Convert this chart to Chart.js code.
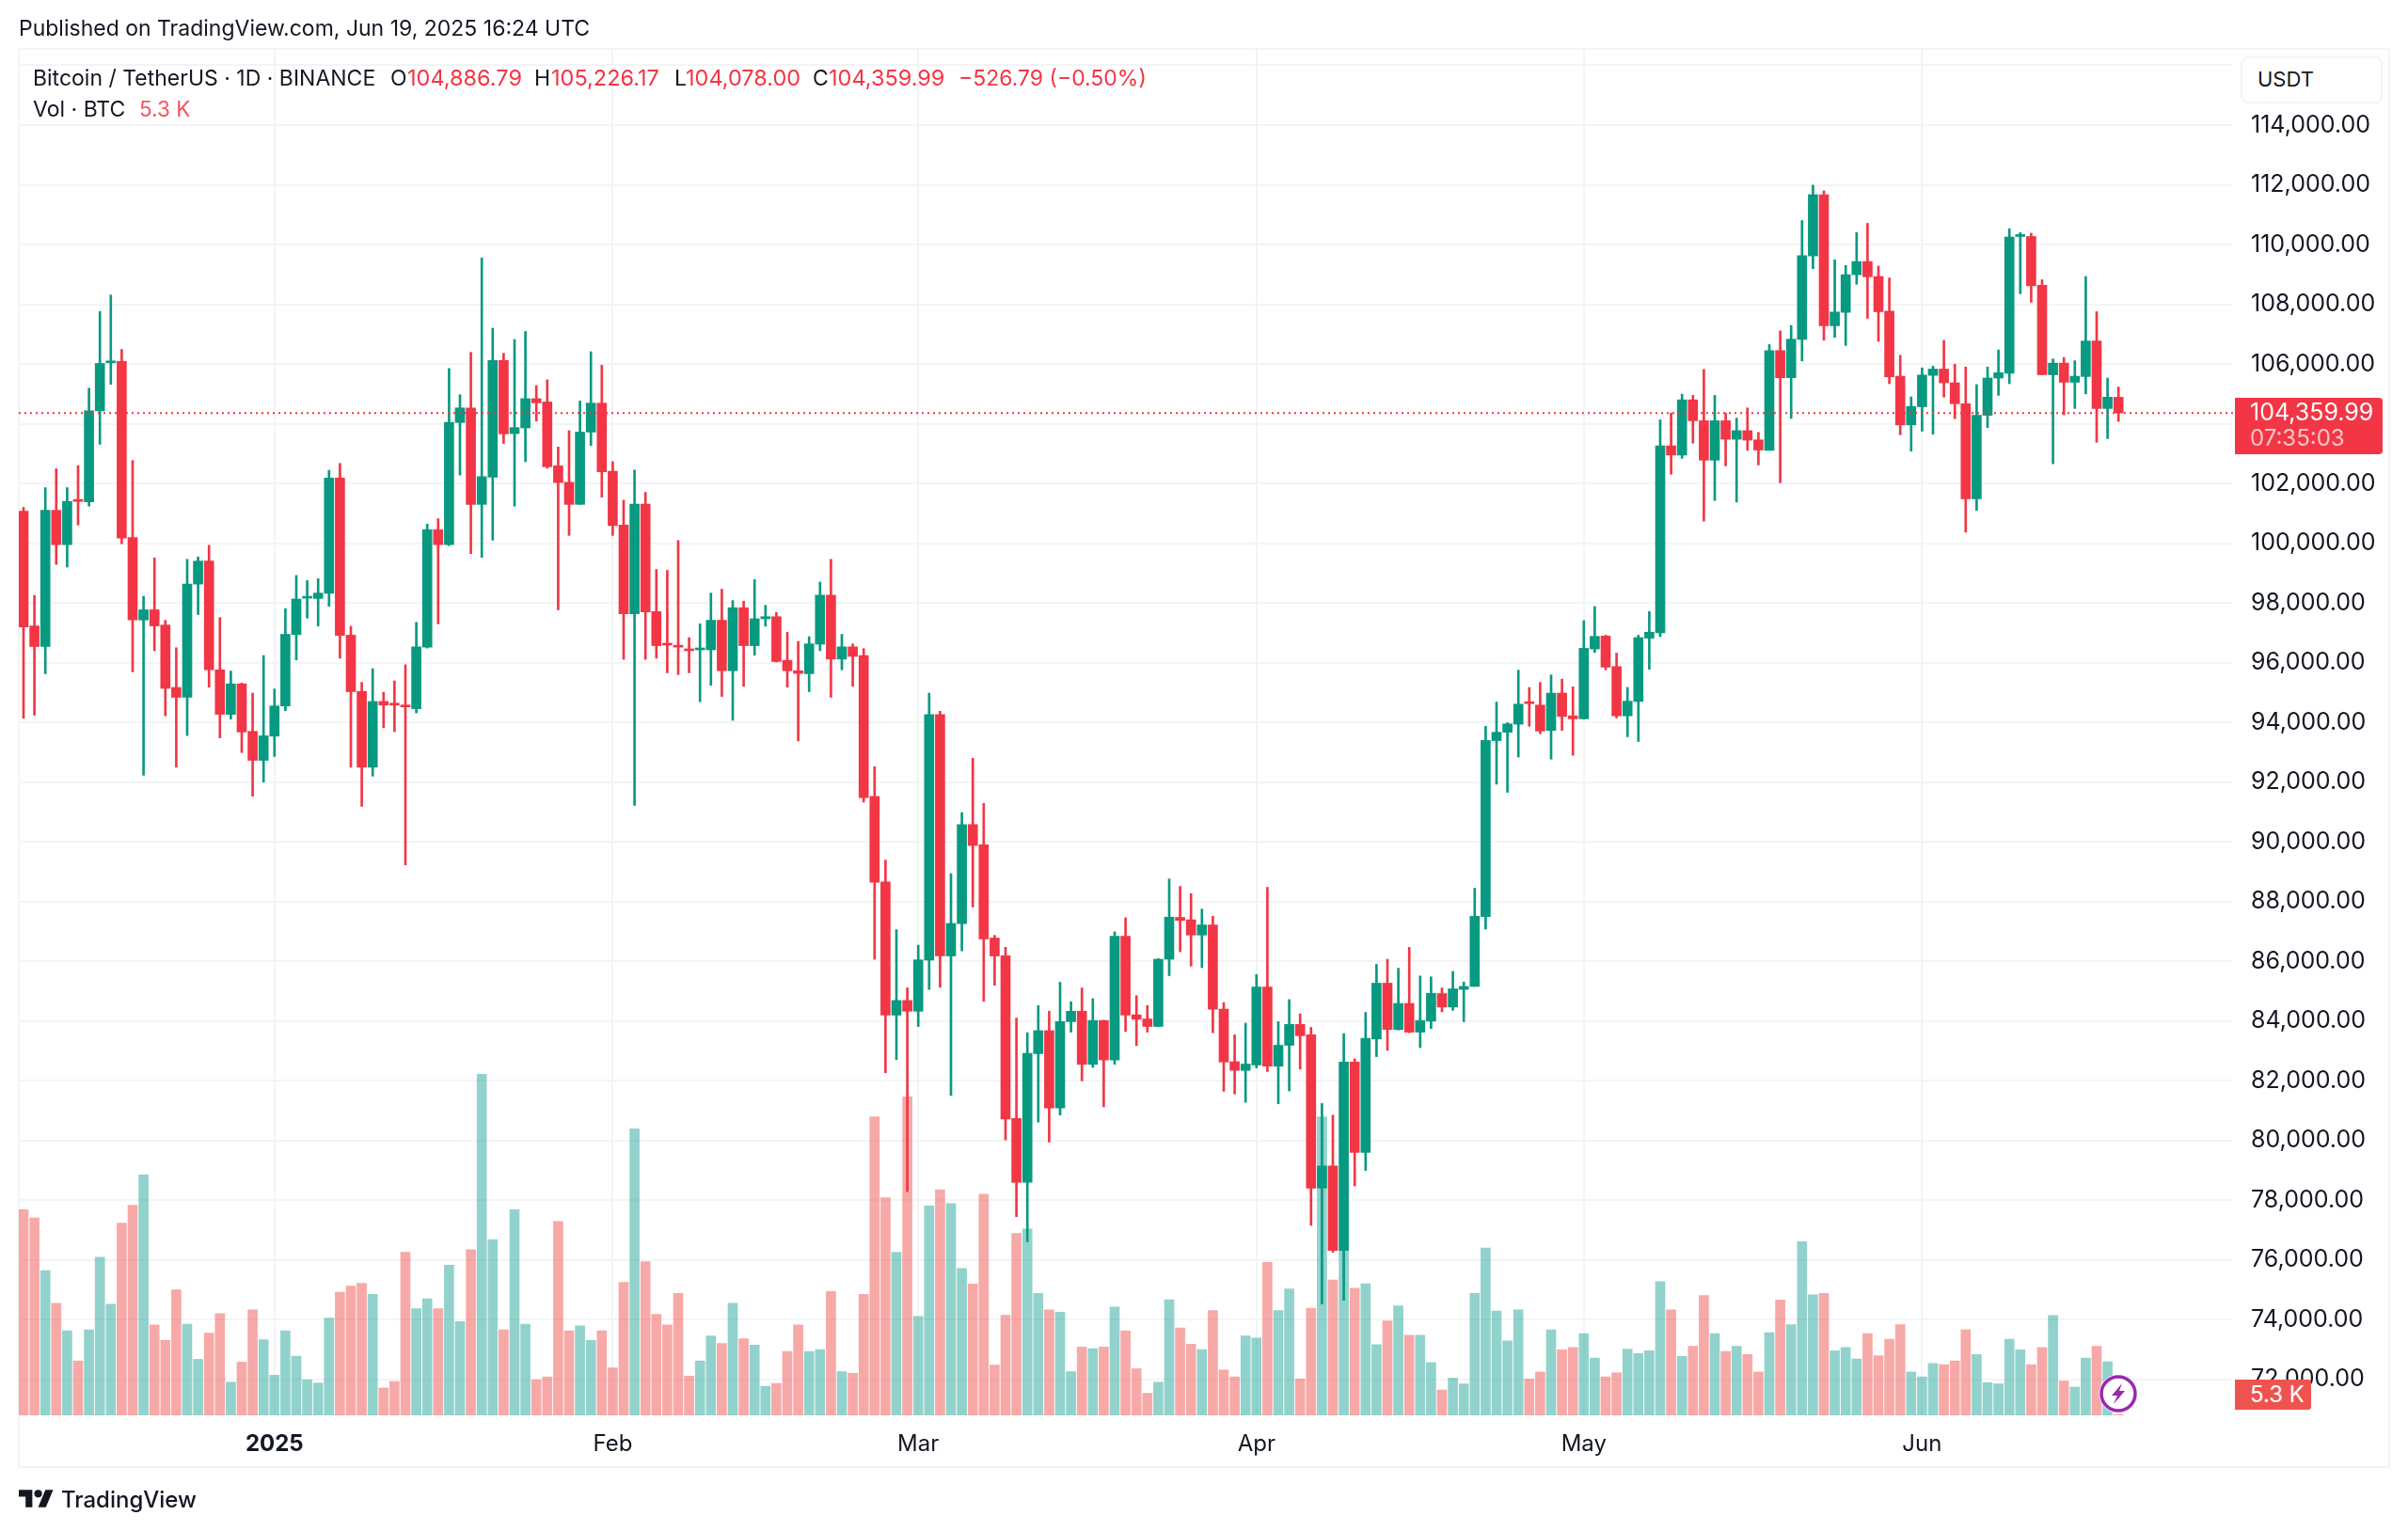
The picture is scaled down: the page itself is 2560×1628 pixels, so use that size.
<!DOCTYPE html>
<html>
<head>
<meta charset="utf-8">
<title>Bitcoin / TetherUS</title>
<script src="https://cdn.jsdelivr.net/npm/chart.js@4/dist/chart.umd.min.js"></script>
<style>
  html, body { margin: 0; padding: 0; background: #fff; }
  #page { position: relative; width: 2560px; height: 1628px; overflow: hidden; font-family: Inter, sans-serif; color: #131722; }
  #frame { position: absolute; left: 19px; top: 51px; width: 2518px; height: 1506px; border: 2px solid #f3f4f6; }
  canvas { position: absolute; left: 0; top: 0; }
  .t { position: absolute; white-space: nowrap; font-size: 24px; line-height: 30px; }
  .red { color: #f23645; }
  .box { position: absolute; box-sizing: border-box; }
</style>
</head>
<body>
<div id="page">
  <div id="frame"></div>
  <canvas id="chart" width="2560" height="1628"></canvas>

  <div class="t" style="left:20px;top:15px;font-size:23px">Published on TradingView.com, Jun 19, 2025 16:24 UTC</div>

  <div class="t" style="left:35px;top:68px;font-size:23px">Bitcoin / TetherUS · 1D · BINANCE</div>
  <div class="t" style="left:415px;top:68px;font-size:23px">O</div>
  <div class="t red" style="left:433px;top:68px;font-size:23.500px">104,886.79</div>
  <div class="t" style="left:568px;top:68px;font-size:23px">H</div>
  <div class="t red" style="left:586px;top:68px;font-size:23.500px">105,226.17</div>
  <div class="t" style="left:717px;top:68px;font-size:23px">L</div>
  <div class="t red" style="left:729px;top:68px;font-size:23.500px">104,078.00</div>
  <div class="t" style="left:864px;top:68px;font-size:23px">C</div>
  <div class="t red" style="left:881px;top:68px;font-size:23.500px">104,359.99</div>
  <div class="t red" style="left:1019px;top:68px;font-size:23px">−526.79 (−0.50%)</div>
  <div class="t" style="left:35px;top:101px;font-size:23px">Vol · BTC</div>
  <div class="t" style="left:148px;top:101px;font-size:22.500px;color:#f7525f">5.3 K</div>

  <div class="box" style="left:2382px;top:60px;width:151px;height:50px;background:#fff;border:2px solid #f3f4f6;border-radius:8px"></div>
  <div class="t" style="left:2400px;top:69px;font-size:22px">USDT</div>

  <div class="box" style="left:2376px;top:423px;width:157px;height:60px;background:#f23645;border-radius:0 4px 4px 0"></div>
  <div class="t" style="left:2392px;top:423px;font-size:25px;color:#fff">104,359.99</div>
  <div class="t" style="left:2392px;top:451px;color:rgba(255,255,255,.7)">07:35:03</div>

  <div class="box" style="left:2376px;top:1467px;width:81px;height:32px;background:#ef5350;border-radius:0 3px 3px 0"></div>
  <div class="t" style="left:2392px;top:1468px;color:#fff">5.3 K</div>

  <svg class="box" style="left:2231px;top:1461px" width="42" height="42" viewBox="0 0 42 42">
    <circle cx="21" cy="21" r="20.500" fill="#fff"/>
    <circle cx="21" cy="21" r="18" fill="#fff" stroke="#9c27b0" stroke-width="3.500"/>
    <path d="M25 10 L14 23 L20 23 L16 32 L28 18 L22 18 Z" fill="#9c27b0"/>
  </svg>

  <svg class="box" style="left:20px;top:1584px" width="37" height="19" viewBox="0 4 36 18">
    <path d="M14 22H7V11H0V4h14v18zM28 22h-8l7.500-18h8L28 22z" fill="#131722"/>
    <circle cx="20" cy="8" r="4" fill="#131722"/>
  </svg>
  <div class="t" style="left:65px;top:1580px;font-size:24px;font-weight:500">TradingView</div>
</div>

<script>
// daily candles, Dec 9 2024 to Jun 19 2025
const opens = [
  101070, 97230, 96540, 101100, 99950, 101440, 101380, 104430, 106040, 106090,
  100190, 97430, 97770, 97260, 95170, 94840, 98630, 99400, 95760, 94270,
  95290, 93700, 92730, 93540, 94550, 96940, 98160, 98150, 98320, 102180,
  96920, 95040, 92500, 94700, 94620, 94560, 94460, 96520, 100450, 99950,
  104040, 104530, 101300, 102210, 106120, 103670, 103860, 104840, 104730, 102590,
  102040, 101300, 103720, 104690, 102410, 100610, 97640, 101310, 97710, 96630,
  96560, 96460, 96430, 96430, 97420, 95730, 97840, 96570, 97470, 97540,
  96080, 95730, 95630, 96620, 98260, 96120, 96530, 96240, 91520, 88660,
  84200, 84690, 84330, 86040, 94260, 86180, 87260, 90580, 89900, 86780,
  86190, 80740, 78600, 82910, 83680, 81090, 83980, 84330, 82550, 84020,
  82700, 86840, 84210, 84070, 83820, 86070, 87470, 87390, 86880, 87220,
  84400, 82640, 82350, 82530, 85140, 82490, 83190, 83890, 83540, 78410,
  79150, 76320, 82630, 79600, 83400, 85270, 83720, 84590, 83630, 84000,
  84920, 84470, 85060, 85160, 87500, 93390, 93670, 93940, 94650, 94580,
  93730, 94980, 94220, 94120, 96460, 96890, 95870, 94220, 94700, 96820,
  97000, 103260, 102950, 104800, 104100, 102780, 104100, 103480, 103770, 103460,
  103110, 106450, 105540, 106820, 109620, 111670, 107280, 107730, 108990, 109430,
  108930, 107770, 105590, 103960, 104570, 105620, 105830, 105370, 104670, 101490,
  104280, 105530, 105690, 110270, 110270, 108640, 105640, 106030, 105390, 105580,
  106770, 104510, 104886.79
];
const highs = [
  101200, 98250, 101860, 102490, 101860, 102600, 105190, 107760, 108310, 106490,
  102770, 98220, 99510, 97420, 96500, 99460, 99540, 99930, 97510, 95720,
  95320, 94980, 96240, 95120, 97810, 98920, 98750, 98810, 102440, 102670,
  97220, 95340, 95800, 95010, 95390, 95930, 97350, 100640, 100820, 105850,
  104970, 106390, 109550, 107200, 106360, 106820, 107090, 105280, 105470, 103220,
  103770, 104760, 106410, 105960, 102730, 101440, 102450, 101700, 99120, 99090,
  100090, 96840, 97300, 98330, 98460, 98080, 98060, 98780, 97920, 97680,
  97020, 96710, 96870, 98700, 99460, 96950, 96630, 96470, 92520, 89390,
  87060, 85110, 86540, 94980, 94370, 88940, 90980, 92800, 91290, 86870,
  86470, 84100, 83610, 84520, 84330, 85300, 84650, 85110, 84750, 84030,
  86990, 87460, 84850, 84520, 86090, 88760, 88510, 88270, 87750, 87510,
  84620, 83540, 83930, 85560, 88480, 83980, 84720, 84240, 83790, 81240,
  80850, 83580, 82740, 84290, 85900, 86070, 85770, 86470, 85510, 85480,
  85110, 85660, 85310, 88450, 93870, 94680, 93990, 95750, 95170, 95340,
  95590, 95450, 95190, 97410, 97880, 96920, 96320, 95170, 96920, 97710,
  104130, 104360, 104990, 104950, 105820, 104950, 104360, 104190, 104530, 103710,
  106650, 107110, 107290, 110800, 111990, 111800, 109490, 109300, 110400, 110710,
  109280, 108880, 106290, 104900, 105870, 105930, 106790, 105990, 105900, 105310,
  105900, 106470, 110530, 110400, 110380, 108820, 106170, 106220, 106110, 108930,
  107750, 105530, 105226.17
];
const lows = [
  94140, 94240, 95630, 99290, 99200, 100610, 101240, 103310, 105320, 99980,
  95690, 92230, 96400, 94220, 92500, 93560, 97610, 95180, 93480, 94110,
  92990, 91530, 92000, 92860, 94390, 96090, 97490, 97230, 97890, 96150,
  92500, 91190, 92200, 93820, 93690, 89230, 94320, 96490, 97300, 99920,
  102280, 99650, 99530, 100100, 103340, 101240, 102730, 104090, 102510, 97770,
  100260, 101300, 103270, 101540, 100260, 96110, 91220, 96110, 96150, 95660,
  95600, 95660, 94690, 95240, 94870, 94070, 95210, 96250, 97220, 96020,
  95180, 93380, 95030, 96400, 94840, 95760, 95210, 91330, 86070, 82270,
  82710, 78290, 83820, 85060, 85130, 81510, 86350, 87820, 84660, 85200,
  80020, 77450, 76610, 80620, 79950, 80850, 83630, 82000, 82450, 81130,
  82550, 83650, 83180, 83630, 83810, 85520, 86320, 85840, 85790, 83610,
  81650, 81560, 81280, 82430, 82310, 81230, 81660, 82390, 77160, 74530,
  76260, 74650, 78480, 79000, 82810, 83020, 83700, 83610, 83110, 83750,
  84310, 84360, 83980, 85160, 87080, 91930, 91660, 92840, 93870, 93620,
  92770, 93730, 92900, 94110, 96340, 95760, 94150, 93520, 93360, 95780,
  96870, 102310, 102840, 103350, 100740, 101430, 102590, 101380, 103110, 102620,
  103110, 102020, 104180, 106100, 109190, 106800, 106890, 106620, 108670, 107530,
  106760, 105340, 103630, 103080, 103750, 103650, 104890, 104170, 100370, 101100,
  103870, 104950, 105340, 108350, 108070, 105640, 102660, 104300, 104510, 105000,
  103380, 103500, 104078
];
const closes = [
  97200, 96540, 101100, 99950, 101400, 101400, 104430, 106020, 106090, 100170,
  97430, 97770, 97230, 95140, 94840, 98630, 99400, 95760, 94270, 95290,
  93680, 92730, 93550, 94550, 96950, 98130, 98220, 98330, 102180, 96910,
  95030, 92500, 94700, 94580, 94580, 94520, 96530, 100450, 99950, 104050,
  104530, 101300, 102230, 106120, 103660, 103870, 104840, 104700, 102560, 102030,
  101300, 103720, 104690, 102390, 100590, 97640, 101310, 97700, 96570, 96590,
  96520, 96400, 96470, 97420, 95730, 97840, 96570, 97470, 97540, 96040,
  95730, 95640, 96630, 98260, 96120, 96530, 96210, 91480, 88650, 84200,
  84690, 84330, 86050, 94260, 86180, 87270, 90580, 89880, 86750, 86180,
  80720, 78600, 82920, 83680, 81090, 83980, 84330, 82550, 84020, 82700,
  86840, 84200, 84060, 83820, 86070, 87480, 87370, 86880, 87220, 84400,
  82630, 82350, 82560, 85140, 82490, 83190, 83890, 83510, 78410, 79150,
  76320, 82630, 79600, 83420, 85270, 83720, 84590, 83630, 84020, 84930,
  84470, 85080, 85160, 87510, 93400, 93670, 93950, 94610, 94630, 93710,
  94980, 94200, 94120, 96480, 96880, 95850, 94220, 94710, 96840, 97020,
  103260, 102950, 104800, 104100, 102780, 104100, 103480, 103770, 103450, 103120,
  106450, 105540, 106830, 109630, 111670, 107280, 107740, 108990, 109430, 108920,
  107750, 105570, 103960, 104580, 105630, 105830, 105370, 104670, 101490, 104280,
  105530, 105710, 110250, 110310, 108620, 105640, 106030, 105390, 105590, 106770,
  104510, 104890, 104359.99
];
// volume in thousands of BTC
const volumes = [
  55.4, 53.4, 40.5, 32.5, 25.8, 18.4, 26.0, 43.8, 32.3, 52.1,
  56.5, 63.9, 27.2, 23.4, 35.8, 27.4, 18.8, 25.2, 30.0, 13.2,
  18.1, 30.9, 23.6, 14.9, 25.8, 19.6, 13.8, 13.0, 28.9, 35.2,
  36.7, 37.4, 34.7, 11.8, 13.4, 45.0, 31.2, 33.6, 31.2, 41.8,
  28.0, 45.6, 88.5, 48.1, 26.0, 55.4, 27.4, 13.8, 14.5, 52.5,
  25.8, 27.0, 23.4, 25.8, 16.7, 37.6, 75.2, 42.7, 29.8, 27.2,
  34.9, 14.7, 18.4, 24.5, 22.7, 32.5, 23.8, 22.3, 12.2, 12.9,
  20.7, 27.2, 20.7, 21.2, 35.4, 15.8, 15.4, 34.7, 78.1, 58.3,
  45.0, 83.0, 29.3, 56.3, 60.3, 56.9, 41.0, 37.2, 59.2, 17.4,
  29.6, 49.6, 50.7, 34.9, 30.9, 30.3, 15.8, 21.8, 21.4, 21.8,
  31.6, 25.8, 16.5, 10.5, 13.2, 33.4, 26.5, 22.5, 21.2, 30.7,
  16.2, 14.5, 24.5, 24.0, 42.5, 30.7, 36.0, 14.0, 31.3, 78.1,
  38.2, 45.3, 36.2, 37.3, 22.4, 28.2, 31.9, 24.7, 24.7, 18.0,
  11.3, 14.2, 12.8, 34.9, 46.0, 30.6, 23.3, 30.9, 14.0, 15.7,
  26.0, 21.1, 21.7, 25.1, 19.1, 14.5, 15.5, 21.3, 20.2, 20.9,
  37.8, 30.9, 19.5, 22.0, 34.4, 25.1, 20.7, 22.0, 20.0, 15.7,
  25.3, 33.3, 27.3, 47.6, 34.6, 34.9, 20.9, 21.7, 18.9, 25.1,
  19.7, 23.7, 27.3, 15.7, 14.5, 17.8, 17.5, 18.4, 26.0, 20.0,
  13.1, 12.8, 23.7, 21.1, 17.5, 21.7, 29.5, 13.5, 12.0, 19.1,
  22.0, 18.2, 5.3
];
const priceTicks = [72000, 74000, 76000, 78000, 80000, 82000, 84000, 86000, 88000, 90000, 92000,
  94000, 96000, 98000, 100000, 102000, 104000, 106000, 108000, 110000, 112000, 114000, 116000];
const monthTicks = [23, 54, 82, 113, 143, 174];
const monthLabels = ['2025', 'Feb', 'Mar', 'Apr', 'May', 'Jun'];
const lastPrice = 104359.99;

const GREEN = '#089981';
const RED = '#f23645';
const VOL_GREEN = 'rgba(38, 166, 154, 0.5)';
const VOL_RED = 'rgba(239, 83, 80, 0.5)';
const GRID = '#f3f4f6';
const TEXT = '#131722';
const FONT = 'Inter, sans-serif';

const xMin = -0.431;
const xMax = 202.5;

const isUp = closes.map((c, i) => c >= opens[i]);
const candleColors = isUp.map(up => (up ? GREEN : RED));

new Chart(document.getElementById('chart'), {
  type: 'bar',
  data: {
    datasets: [
      {
        label: 'Volume',
        yAxisID: 'yVol',
        order: 3,
        grouped: false,
        barThickness: 10,
        data: volumes.map((v, i) => ({ x: i, y: v })),
        backgroundColor: isUp.map(up => (up ? VOL_GREEN : VOL_RED))
      },
      {
        label: 'Wick',
        yAxisID: 'y',
        order: 2,
        grouped: false,
        barThickness: 2,
        data: highs.map((h, i) => ({ x: i, y: [lows[i], h] })),
        backgroundColor: candleColors
      },
      {
        label: 'Body',
        yAxisID: 'y',
        order: 1,
        grouped: false,
        barThickness: 10,
        minBarLength: 2,
        data: opens.map((o, i) => ({ x: i, y: [o, closes[i]] })),
        backgroundColor: candleColors
      },
      {
        type: 'line',
        label: 'Last price',
        yAxisID: 'y',
        order: 0,
        data: [{ x: xMin, y: lastPrice }, { x: xMax, y: lastPrice }],
        borderColor: RED,
        borderWidth: 2,
        borderDash: [2, 4],
        pointRadius: 0
      }
    ]
  },
  options: {
    responsive: false,
    animation: false,
    devicePixelRatio: 1,
    layout: { padding: { left: 20, right: 19, top: 52, bottom: 68 } },
    plugins: { legend: { display: false }, tooltip: { enabled: false } },
    scales: {
      x: {
        type: 'linear',
        min: xMin,
        max: xMax,
        offset: false,
        afterFit: scale => { scale.height = 55; },
        afterBuildTicks: scale => { scale.ticks = monthTicks.map(v => ({ value: v })); },
        grid: { color: GRID, lineWidth: 2, drawTicks: false, offset: false },
        border: { display: false },
        ticks: {
          autoSkip: false,
          maxRotation: 0,
          padding: 16,
          color: TEXT,
          callback: v => monthLabels[monthTicks.indexOf(v)],
          font: ctx => ({
            family: FONT,
            size: 24,
            weight: ctx.tick && ctx.tick.value === monthTicks[0] ? 'bold' : 'normal'
          })
        }
      },
      y: {
        position: 'right',
        min: 70800,
        max: 116550,
        afterFit: scale => { scale.width = 167; },
        afterBuildTicks: scale => { scale.ticks = priceTicks.map(v => ({ value: v })); },
        grid: { color: GRID, lineWidth: 2, drawTicks: false },
        border: { display: false },
        ticks: {
          autoSkip: false,
          padding: 19,
          crossAlign: 'near',
          color: TEXT,
          font: { family: FONT, size: 25 },
          callback: v => (v === 116000 ? '' : v.toLocaleString('en-US', { minimumFractionDigits: 2 }))
        }
      },
      yVol: {
        display: false,
        min: 5.1,
        max: 339.3
      }
    }
  }
});
</script>
</body>
</html>
